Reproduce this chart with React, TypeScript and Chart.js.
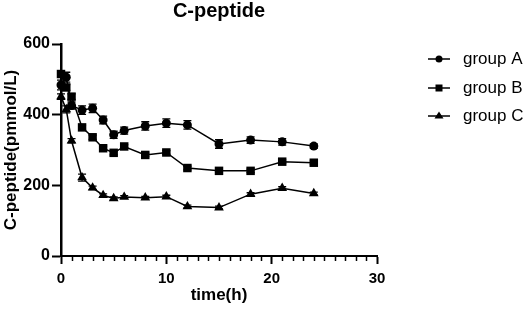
import React, { useEffect, useRef } from "react";
import { Chart, registerables } from "chart.js";

Chart.register(...registerables);

const times = [0, 0.5, 1, 2, 3, 4, 5, 6, 8, 10, 12, 15, 18, 21, 24];
const groupA = [484, 506, 426, 413, 418, 385, 343, 355, 368, 376, 371, 317, 328, 323, 311];
const groupB = [515, 477, 451, 364, 336, 305, 292, 310, 286, 293, 249, 241, 241, 267, 264];
const groupC = [451, 415, 326, 222, 193, 172, 163, 167, 165, 168, 140, 137, 175, 192, 177];
const errA = [14, 14, 10, 12, 12, 11, 10, 10, 12, 12, 12, 12, 9, 9, 6];
const errB = [8, 8, 8, 6, 6, 6, 6, 5, 5, 5, 5, 5, 5, 5, 5];
const errC = [8, 10, 6, 10, 5, 4, 4, 4, 4, 4, 4, 4, 4, 4, 4];
const seriesNames = ["group A", "group B", "group C"];
const pointStyles = ["circle", "rect", "triangle"];
const xTickLabels = [0, 10, 20, 30];
const yTickLabels = [0, 200, 400, 600];

const FONT = "'Liberation Sans', Arial, Helvetica, sans-serif";

export default function App() {
  const ref = useRef<HTMLCanvasElement>(null);

  useEffect(() => {
    document.body.style.margin = "0";
    const canvas = ref.current!;
    const errs = [errA, errB, errC];
    const radii = [4.5, 6, 5.6];

    const extras = {
      id: "extras",
      beforeDatasetsDraw(chart: any) {
        const ctx = chart.ctx;
        const xs = chart.scales.x;
        const ys = chart.scales.y;
        ctx.save();
        ctx.strokeStyle = "#000";
        ctx.lineWidth = 1.3;
        chart.data.datasets.forEach((ds: any, i: number) => {
          ds.data.forEach((p: any, j: number) => {
            const e = errs[i][j];
            const px = xs.getPixelForValue(p.x);
            const top = ys.getPixelForValue(p.y + e);
            const bot = ys.getPixelForValue(p.y - e);
            ctx.beginPath();
            ctx.moveTo(px, top);
            ctx.lineTo(px, bot);
            ctx.moveTo(px - 4, top);
            ctx.lineTo(px + 4, top);
            ctx.moveTo(px - 4, bot);
            ctx.lineTo(px + 4, bot);
            ctx.stroke();
          });
        });
        ctx.restore();
      },
      afterDraw(chart: any) {
        const ctx = chart.ctx;
        const xs = chart.scales.x;
        const area = chart.chartArea;
        ctx.save();
        // minor x ticks
        ctx.strokeStyle = "#000";
        ctx.lineWidth = 1.5;
        for (let v = 0; v <= 30; v++) {
          if (v % 10 === 0) continue;
          const px = Math.round(xs.getPixelForValue(v)) + 0.5;
          ctx.beginPath();
          ctx.moveTo(px, area.bottom);
          ctx.lineTo(px, area.bottom + 5);
          ctx.stroke();
        }
        // title
        ctx.fillStyle = "#000";
        ctx.font = `bold 20px ${FONT}`;
        ctx.textAlign = "center";
        ctx.textBaseline = "middle";
        ctx.fillText("C-peptide", (area.left + area.right) / 2, 11);
        // legend
        const ly = [59, 88, 116];
        seriesNames.forEach((name, i) => {
          const y = ly[i];
          ctx.strokeStyle = "#000";
          ctx.lineWidth = 1.5;
          ctx.beginPath();
          ctx.moveTo(428, y);
          ctx.lineTo(450, y);
          ctx.stroke();
          ctx.fillStyle = "#000";
          ctx.beginPath();
          if (i === 0) {
            ctx.arc(439, y, 3.5, 0, Math.PI * 2);
          } else if (i === 1) {
            ctx.rect(435.5, y - 3.5, 7, 7);
          } else {
            ctx.moveTo(439, y - 4.5);
            ctx.lineTo(443.5, y + 2.5);
            ctx.lineTo(434.5, y + 2.5);
            ctx.closePath();
          }
          ctx.fill();
          ctx.font = `17px ${FONT}`;
          ctx.textAlign = "left";
          ctx.textBaseline = "middle";
          ctx.fillText(name, 463, y);
        });
        ctx.restore();
      },
    };

    const data = [groupA, groupB, groupC];
    const chart = new Chart(canvas, {
      type: "line",
      data: {
        datasets: data.map((vals, i) => ({
          label: seriesNames[i],
          data: vals.map((v, j) => ({ x: times[j], y: v })),
          borderColor: "#000",
          backgroundColor: "#000",
          borderWidth: 1.5,
          pointStyle: pointStyles[i] as any,
          pointRadius: radii[i],
          pointBackgroundColor: "#000",
          pointBorderColor: "#000",
          pointBorderWidth: 0,
          fill: false,
          tension: 0,
          clip: false as any,
        })),
      },
      options: {
        animation: false,
        responsive: false,
        layout: { padding: { top: 44, right: 149, left: 0, bottom: 0 } },
        plugins: {
          legend: { display: false },
          tooltip: { enabled: false },
          title: { display: false },
        },
        scales: {
          x: {
            type: "linear",
            min: 0,
            max: 30,
            afterFit: (s: any) => {
              s.height = 58;
            },
            afterBuildTicks: (s: any) => {
              s.ticks = xTickLabels.map((v) => ({ value: v }));
            },
            ticks: {
              color: "#000",
              font: { family: FONT, size: 15, weight: "bold" },
              padding: 6,
              maxRotation: 0,
            },
            grid: {
              display: true,
              drawOnChartArea: false,
              drawTicks: true,
              tickLength: 8,
              tickColor: "#000",
              tickWidth: 2,
            },
            border: { display: true, color: "#000", width: 2 },
            title: {
              display: true,
              text: "time(h)",
              color: "#000",
              font: { family: FONT, size: 17, weight: "bold" },
              padding: { top: 0, bottom: 8 },
            },
          },
          y: {
            type: "linear",
            min: 0,
            max: 600,
            afterFit: (s: any) => {
              s.width = 61;
            },
            afterBuildTicks: (s: any) => {
              s.ticks = yTickLabels.map((v) => ({ value: v }));
            },
            ticks: {
              color: "#000",
              font: { family: FONT, size: 16, weight: "bold" },
              padding: 2,
            },
            grid: {
              display: true,
              drawOnChartArea: false,
              drawTicks: true,
              tickLength: 9,
              tickColor: "#000",
              tickWidth: 2,
            },
            border: { display: true, color: "#000", width: 2.5 },
            title: {
              display: true,
              text: "C-peptide(pmmol/L)",
              color: "#000",
              font: { family: FONT, size: 17, weight: "bold" },
              padding: { top: 1, bottom: 0 },
            },
          },
        },
      },
      plugins: [extras],
    });
    return () => chart.destroy();
  }, []);

  return <canvas ref={ref} width={526} height={314} style={{ display: "block" }} />;
}
